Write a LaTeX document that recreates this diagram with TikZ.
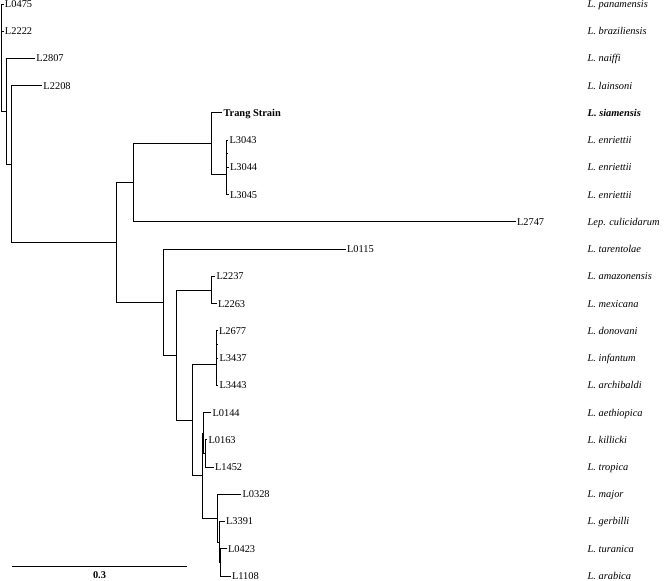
\documentclass[tikz,border=0pt]{standalone}
\usepackage{fontspec}
\setmainfont{Liberation Serif}
\begin{document}
\begin{tikzpicture}[x=1bp,y=-1bp,
  br/.style={line width=0.9bp, black},
  leaf/.style={anchor=west, inner xsep=1.3bp, inner ysep=0pt, text height=6.9bp, text depth=0pt, font=\fontsize{10.4bp}{12bp}\selectfont},
  spname/.style={anchor=west, inner sep=0pt, text height=6.9bp, text depth=0pt, font=\fontsize{10.4bp}{12bp}\selectfont\itshape},
  scalelabel/.style={anchor=north, inner sep=0pt, text height=6.9bp, text depth=0pt, font=\fontsize{10.4bp}{12bp}\selectfont\bfseries}]
\useasboundingbox (0,0) rectangle (672,581);
% leaves
\node[leaf] (l0475) at (3.5,4) {L0475};
\node[leaf] (l2222) at (3.5,31.24) {L2222};
\node[leaf] (l2807) at (35,58.48) {L2807};
\node[leaf] (l2208) at (42,85.71) {L2208};
\node[leaf,font=\fontsize{10.4bp}{12bp}\selectfont\bfseries] (trang) at (222,112.95) {Trang Strain};
\node[leaf] (l3043) at (228,140.19) {L3043};
\node[leaf] (l3044) at (228.5,167.43) {L3044};
\node[leaf] (l3045) at (228.5,194.67) {L3045};
\node[leaf] (l2747) at (515.5,221.9) {L2747};
\node[leaf] (l0115) at (345.5,249.14) {L0115};
\node[leaf] (l2237) at (215,276.38) {L2237};
\node[leaf] (l2263) at (216.5,303.62) {L2263};
\node[leaf] (l2677) at (217.5,330.86) {L2677};
\node[leaf] (l3437) at (218,358.1) {L3437};
\node[leaf] (l3443) at (218,385.33) {L3443};
\node[leaf] (l0144) at (211,412.57) {L0144};
\node[leaf] (l0163) at (207,439.81) {L0163};
\node[leaf] (l1452) at (213.5,467.05) {L1452};
\node[leaf] (l0328) at (241,494.29) {L0328};
\node[leaf] (l3391) at (224.5,521.52) {L3391};
\node[leaf] (l0423) at (226.5,548.76) {L0423};
\node[leaf] (l1108) at (230.5,576) {L1108};
% internal nodes
\coordinate (R) at (1,57);
\coordinate (N1) at (6,111.28);
\coordinate (N2) at (11,164.08);
\coordinate (N3) at (116,242.44);
\coordinate (N4) at (133,182.75);
\coordinate (N6) at (211,143.6);
\coordinate (N7) at (226.5,174.24);
\coordinate (N7a) at (226.8,153.81);
\coordinate (N5) at (163,302.13);
\coordinate (N8) at (176.5,355.12);
\coordinate (N9) at (211.5,290);
\coordinate (N10) at (192.7,420.23);
\coordinate (N11) at (216.7,364.9);
\coordinate (N11a) at (216.9,344.48);
\coordinate (N12) at (202.3,475.56);
\coordinate (N12a) at (203.3,433);
\coordinate (N13) at (205,453.43);
\coordinate (N14) at (217.3,518.12);
\coordinate (N15) at (219.3,541.95);
\coordinate (N16) at (220.3,562.38);
% branches between internal nodes
\foreach \p/\c in {R/N1,N1/N2,N2/N3,N3/N4,N3/N5,N4/N6,N6/N7,N7/N7a,N5/N8,N8/N9,N8/N10,N10/N11,N11/N11a,N10/N12,N12/N12a,N12a/N13,N12/N14,N14/N15,N15/N16}
  \draw[br] (\p) |- (\c);
% branches to leaves
\foreach \p/\c in {R/l0475,R/l2222,N1/l2807,N2/l2208,N6/trang,N7a/l3043,N7a/l3044,N7/l3045,N4/l2747,N5/l0115,N9/l2237,N9/l2263,N11a/l2677,N11a/l3437,N11/l3443,N12a/l0144,N13/l0163,N13/l1452,N14/l0328,N15/l3391,N16/l0423,N16/l1108}
  \draw[br] (\p) |- (\c.west);
% species names
\node[spname] (s1) at (587.5,4) {L. panamensis};
\node[spname] (s2) at (587.5,31.24) {L. braziliensis};
\node[spname] (s3) at (587.5,58.48) {L. naiffi};
\node[spname] (s4) at (587.5,85.71) {L. lainsoni};
\node[spname,font=\fontsize{10.4bp}{12bp}\selectfont\bfseries\itshape] (s5) at (587.5,112.95) {L. siamensis};
\node[spname] (s6) at (587.5,140.19) {L. enriettii};
\node[spname] (s7) at (587.5,167.43) {L. enriettii};
\node[spname] (s8) at (587.5,194.67) {L. enriettii};
\node[spname] (s9) at (587.5,221.9) {Lep. culicidarum};
\node[spname] (s10) at (587.5,249.14) {L. tarentolae};
\node[spname] (s11) at (587.5,276.38) {L. amazonensis};
\node[spname] (s12) at (587.5,303.62) {L. mexicana};
\node[spname] (s13) at (587.5,330.86) {L. donovani};
\node[spname] (s14) at (587.5,358.1) {L. infantum};
\node[spname] (s15) at (587.5,385.33) {L. archibaldi};
\node[spname] (s16) at (587.5,412.57) {L. aethiopica};
\node[spname] (s17) at (587.5,439.81) {L. killicki};
\node[spname] (s18) at (587.5,467.05) {L. tropica};
\node[spname] (s19) at (587.5,494.29) {L. major};
\node[spname] (s20) at (587.5,521.52) {L. gerbilli};
\node[spname] (s21) at (587.5,548.76) {L. turanica};
\node[spname] (s22) at (587.5,576) {L. arabica};
% scale bar
\coordinate (sb1) at (12,566.5);
\coordinate (sb2) at (187,566.5);
\draw[br] (sb1) -- (sb2);
\node[scalelabel] (sbl) at (99.5,571) {0.3};
\end{tikzpicture}
\end{document}
